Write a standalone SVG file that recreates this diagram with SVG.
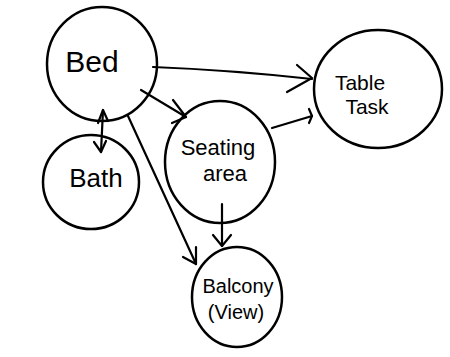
<svg xmlns="http://www.w3.org/2000/svg" width="450" height="357" viewBox="0 0 450 357">
<style>
.node{fill:none;stroke:#000;stroke-width:2.5}
.edge{fill:none;stroke:#000;stroke-width:2.2;stroke-linecap:round;stroke-linejoin:round}
text{font-family:"Liberation Sans",Arial,sans-serif;fill:#000;text-anchor:middle}
</style>
<rect width="450" height="357" fill="#fff"/>
<g id="bed"><ellipse class="node" cx="102" cy="64" rx="55" ry="57"/><text x="92" y="72" font-size="30">Bed</text></g>
<g id="table-task"><ellipse class="node" cx="378" cy="89" rx="64" ry="59"/><text x="360" y="90" font-size="21">Table</text><text x="367" y="114" font-size="21">Task</text></g>
<g id="bath"><ellipse class="node" cx="91" cy="182" rx="48" ry="47"/><text x="96" y="187" font-size="26">Bath</text></g>
<g id="seating-area"><ellipse class="node" cx="220" cy="162" rx="55" ry="61"/><text x="218" y="155" font-size="22">Seating</text><text x="225" y="181" font-size="22">area</text></g>
<g id="balcony"><ellipse class="node" cx="237" cy="297" rx="45" ry="50"/><text x="238" y="293" font-size="20">Balcony</text><text x="236" y="319" font-size="20">(View)</text></g>
<g id="connectors">
<path class="edge" d="M153 67 Q230 70 312 79"/>
<path class="edge" d="M297 65 L312 78 L287 92"/>
<path class="edge" d="M141 90 L186 117"/>
<path class="edge" d="M173 100 L186 117 L172 123"/>
<path class="edge" d="M103 110 L101 152"/>
<path class="edge" d="M98 123 L103 110 L108 121"/>
<path class="edge" d="M94 142 L101 152 L106 141"/>
<path class="edge" d="M128 116 L196 264"/>
<path class="edge" d="M183 257 L196 264 L196 247"/>
<path class="edge" d="M272 128 L312 116"/>
<path class="edge" d="M309 109 L312 116 L309 123"/>
<path class="edge" d="M222 204 L222 246"/>
<path class="edge" d="M213 235 L222 246 L231 235"/>
</g>
</svg>
